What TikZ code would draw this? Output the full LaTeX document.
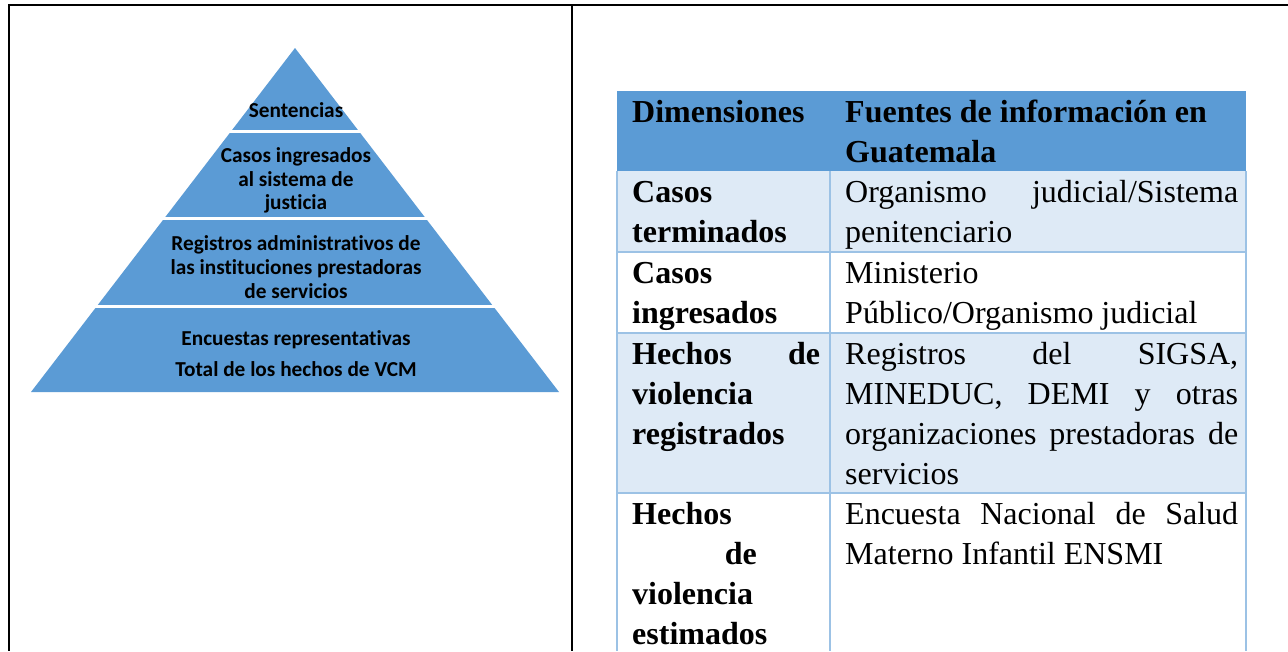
\documentclass[tikz,border=0pt]{standalone}
\usepackage{fontspec}
\setmainfont{Liberation Serif}
\newfontfamily\calibri[Ligatures=NoCommon]{Carlito}
\definecolor{pyr}{HTML}{5B9BD5}
\definecolor{hdr}{HTML}{5B9BD5}
\definecolor{lite}{HTML}{DEEAF6}
\definecolor{gridc}{HTML}{9CC2E5}
\tikzset{
 frame/.style={line width=2pt, black},
 gridline/.style={line width=1.5pt, gridc},
 pyrtext/.style={font=\calibri\bfseries\fontsize{21.3}{23.8}\selectfont, align=center, inner sep=0pt, text=black},
 cell/.style={anchor=base west, inner sep=0pt, font=\fontsize{32}{40}\selectfont},
 cellb/.style={anchor=base west, inner sep=0pt, font=\bfseries\fontsize{32}{40}\selectfont},
}
\begin{document}
\begin{tikzpicture}[x=1pt,y=-1pt]
\useasboundingbox (0,0) rectangle (1288,651);
\fill[white] (0,0) rectangle (1288,651);
% frame
\draw[frame] (8.5,5) -- (1288,5);
\draw[frame] (8.5,4) -- (8.5,651);
\draw[frame] (572,5) -- (572,651);
% pyramid
\fill[pyr] (295,48) -- (559,392) -- (31,392) -- cycle;
\foreach \yy in {131,218.5,306} \draw[white, line width=3pt] (20,\yy) -- (568,\yy);
\node[pyrtext] (sent) at (296,110) {Sentencias};
\node[pyrtext] (casos) at (296,180.5) {Casos ingresados\\al sistema de\\justicia};
\node[pyrtext] (regs) at (296,267) {Registros administrativos de\\las instituciones prestadoras\\de servicios};
\node[pyrtext] (enc) at (296,353.5) {Encuestas representativas\\[7pt]Total de los hechos de VCM};
% table fills
\fill[hdr] (617,91) rectangle (1246,171);
\fill[lite] (617,171) rectangle (1246,252);
\fill[lite] (617,333) rectangle (1246,493);
% grid
\draw[gridline] (617,171) -- (617,651);
\draw[gridline] (830,171) -- (830,651);
\draw[gridline] (1246,171) -- (1246,651);
\foreach \yy in {252,333,493} \draw[gridline] (617,\yy) -- (1246,\yy);
% header
\node[cellb] (h1) at (632,122) {Dimensiones};
\node[cellb] (h2) at (845,122) {Fuentes de información en};
\node[cellb] (h2b) at (845,162) {Guatemala};
% row 1
\node[cellb] (r1a) at (632,202) {Casos};
\node[cellb] (r1b) at (632,242) {terminados};
\node[cell] (r1c) at (845,202) {\makebox[393pt][s]{Organismo judicial/Sistema}};
\node[cell] (r1d) at (845,242) {penitenciario};
% row 2
\node[cellb] (r2a) at (632,283) {Casos};
\node[cellb] (r2b) at (632,323) {ingresados};
\node[cell] (r2c) at (845,283) {Ministerio};
\node[cell] (r2d) at (845,323) {Público/Organismo judicial};
% row 3
\node[cellb] (r3a) at (632,364) {\makebox[188pt][s]{Hechos de}};
\node[cellb] (r3b) at (632,404) {violencia};
\node[cellb] (r3c) at (632,444) {registrados};
\node[cell] (r3d) at (845,364) {\makebox[393pt][s]{Registros del SIGSA,}};
\node[cell] (r3e) at (845,404) {\makebox[393pt][s]{MINEDUC, DEMI y otras}};
\node[cell] (r3f) at (845,444) {\makebox[393pt][s]{organizaciones prestadoras de}};
\node[cell] (r3g) at (845,484) {servicios};
% row 4
\node[cellb] (r4a) at (632,524) {Hechos};
\node[cellb, anchor=base east] (r4b) at (757,564) {de};
\node[cellb] (r4c) at (632,604) {violencia};
\node[cellb] (r4d) at (632,644) {estimados};
\node[cell] (r4e) at (845,524) {\makebox[393pt][s]{Encuesta Nacional de Salud}};
\node[cell] (r4f) at (845,564) {Materno Infantil ENSMI};
\end{tikzpicture}
\end{document}
